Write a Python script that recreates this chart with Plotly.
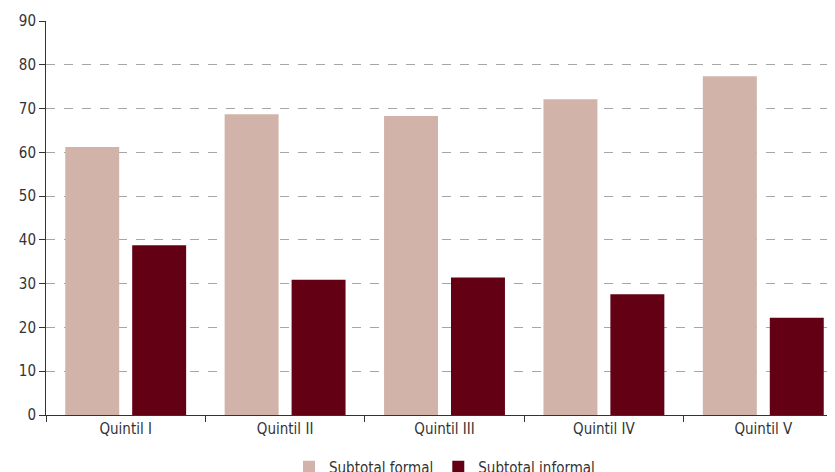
import plotly.graph_objects as go

# ── Data ──────────────────────────────────────────────────────────────────────
quintiles = ['Quintil I', 'Quintil II', 'Quintil III', 'Quintil IV', 'Quintil V']
formal    = [61.2, 68.7, 68.3, 72.1, 77.4]
informal  = [38.8, 30.9, 31.4, 27.6, 22.2]

_FONT = dict(family='Liberation Sans Narrow, DejaVu Sans Condensed, Arial Narrow, sans-serif',
             size=15, color='#333333')
_FORMAL   = '#d1b3a9'
_INFORMAL = '#630014'

fig = go.Figure()
fig.add_trace(go.Bar(x=quintiles, y=formal, name='Subtotal formal',
                     marker=dict(color=_FORMAL, line=dict(width=0))))
fig.add_trace(go.Bar(x=quintiles, y=informal, name='Subtotal informal',
                     marker=dict(color=_INFORMAL, line=dict(width=0))))

# title sits mostly above the visible area, as in the source crop
fig.add_annotation(text='(En porcentajes)', xref='paper', yref='paper',
                   x=0.475, y=1, yanchor='bottom', yshift=16, showarrow=False,
                   font=dict(_FONT, size=16))

# page body adds an 8px offset, so margins are trimmed by 8 on top/left
fig.update_layout(
    width=835, height=472,
    paper_bgcolor='white', plot_bgcolor='white',
    font=_FONT,
    barmode='group', bargap=0.16, bargroupgap=0.194,
    margin=dict(l=38, r=0, t=13, b=65, autoexpand=False),
    showlegend=True,
    legend=dict(orientation='h', x=0.5, xanchor='center', y=-0.09, yanchor='top',
                font=dict(_FONT, size=15), itemwidth=30, tracegroupgap=0),
    xaxis=dict(range=[-0.5, 4.5], showline=True, linecolor='#333333', linewidth=1,
               ticks='outside', tickson='boundaries', ticklen=6, tickcolor='#333333',
               showgrid=False, fixedrange=True, automargin=False),
    yaxis=dict(range=[0, 90], dtick=10, showline=True, linecolor='#333333', linewidth=1,
               ticks='outside', ticklen=6, tickcolor='#333333',
               showgrid=True, gridcolor='#a6a6a6', griddash='dash', gridwidth=1,
               zeroline=False, automargin=False),
)

fig.write_html('out.html')
